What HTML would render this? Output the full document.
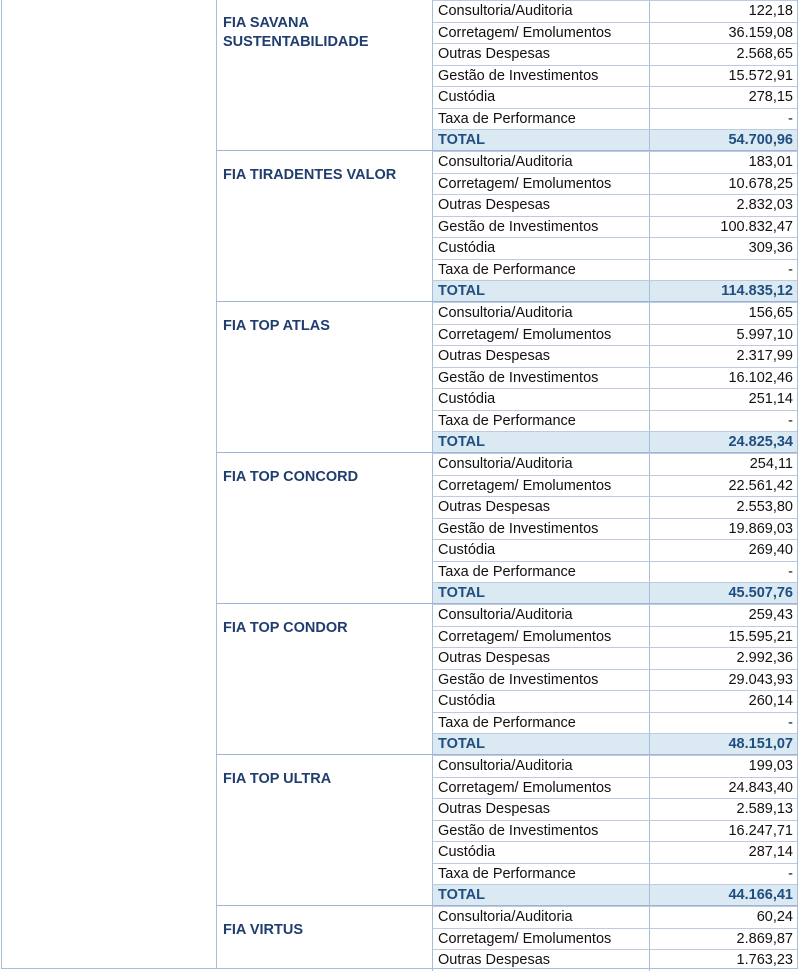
<!DOCTYPE html>
<html><head><meta charset="utf-8"><style>
body{margin:0;width:800px;height:970px;background:#fff;position:relative;overflow:hidden;font-family:"Liberation Sans",sans-serif;}
.vl{position:absolute;top:0;width:1px;background:#a9bcd8;}
.g{position:absolute;left:216px;width:581px;height:151px;border-top:1px solid #9fb3d2;}
.n{position:absolute;left:7px;top:14px;font-weight:bold;font-size:14.5px;color:#1f3d6e;line-height:19px;}
.r{position:absolute;left:216px;width:365px;height:21.57px;border-top:1px solid #bccbe0;border-left:1px solid #a9bcd8;box-sizing:border-box;font-size:14.5px;color:#111;}
.r span{position:absolute;top:2px;}
.r .l{left:5px;}
.r .v{right:4px;}
.r .s{position:absolute;left:216px;top:0;bottom:0;width:1px;background:#a9bcd8;}
.t{background:#dbe9f3;font-weight:bold;color:#1f4e80;}
</style></head><body>
<div class="vl" style="left:1px;height:969px"></div>
<div class="vl" style="left:216px;height:969px"></div>
<div class="vl" style="left:797px;height:969px"></div>
<div style="position:absolute;left:1px;top:968px;width:797px;height:1px;background:#a9bcd8"></div>

<div class="g" style="top:-1px"><div class="n">FIA SAVANA<br>SUSTENTABILIDADE</div>
<div class="r" style="top:0"><span class="l">Consultoria/Auditoria</span><span class="v">122,18</span><i class="s"></i></div>
<div class="r" style="top:21.57px"><span class="l">Corretagem/ Emolumentos</span><span class="v">36.159,08</span><i class="s"></i></div>
<div class="r" style="top:43.14px"><span class="l">Outras Despesas</span><span class="v">2.568,65</span><i class="s"></i></div>
<div class="r" style="top:64.71px"><span class="l">Gestão de Investimentos</span><span class="v">15.572,91</span><i class="s"></i></div>
<div class="r" style="top:86.28px"><span class="l">Custódia</span><span class="v">278,15</span><i class="s"></i></div>
<div class="r" style="top:107.85px"><span class="l">Taxa de Performance</span><span class="v">-</span><i class="s"></i></div>
<div class="r t" style="top:129.42px"><span class="l">TOTAL</span><span class="v">54.700,96</span><i class="s"></i></div>
</div>

<div class="g" style="top:150px"><div class="n" style="top:15px">FIA TIRADENTES VALOR</div>
<div class="r" style="top:0"><span class="l">Consultoria/Auditoria</span><span class="v">183,01</span><i class="s"></i></div>
<div class="r" style="top:21.57px"><span class="l">Corretagem/ Emolumentos</span><span class="v">10.678,25</span><i class="s"></i></div>
<div class="r" style="top:43.14px"><span class="l">Outras Despesas</span><span class="v">2.832,03</span><i class="s"></i></div>
<div class="r" style="top:64.71px"><span class="l">Gestão de Investimentos</span><span class="v">100.832,47</span><i class="s"></i></div>
<div class="r" style="top:86.28px"><span class="l">Custódia</span><span class="v">309,36</span><i class="s"></i></div>
<div class="r" style="top:107.85px"><span class="l">Taxa de Performance</span><span class="v">-</span><i class="s"></i></div>
<div class="r t" style="top:129.42px"><span class="l">TOTAL</span><span class="v">114.835,12</span><i class="s"></i></div>
</div>

<div class="g" style="top:301px"><div class="n" style="top:15px">FIA TOP ATLAS</div>
<div class="r" style="top:0"><span class="l">Consultoria/Auditoria</span><span class="v">156,65</span><i class="s"></i></div>
<div class="r" style="top:21.57px"><span class="l">Corretagem/ Emolumentos</span><span class="v">5.997,10</span><i class="s"></i></div>
<div class="r" style="top:43.14px"><span class="l">Outras Despesas</span><span class="v">2.317,99</span><i class="s"></i></div>
<div class="r" style="top:64.71px"><span class="l">Gestão de Investimentos</span><span class="v">16.102,46</span><i class="s"></i></div>
<div class="r" style="top:86.28px"><span class="l">Custódia</span><span class="v">251,14</span><i class="s"></i></div>
<div class="r" style="top:107.85px"><span class="l">Taxa de Performance</span><span class="v">-</span><i class="s"></i></div>
<div class="r t" style="top:129.42px"><span class="l">TOTAL</span><span class="v">24.825,34</span><i class="s"></i></div>
</div>

<div class="g" style="top:452px"><div class="n" style="top:15px">FIA TOP CONCORD</div>
<div class="r" style="top:0"><span class="l">Consultoria/Auditoria</span><span class="v">254,11</span><i class="s"></i></div>
<div class="r" style="top:21.57px"><span class="l">Corretagem/ Emolumentos</span><span class="v">22.561,42</span><i class="s"></i></div>
<div class="r" style="top:43.14px"><span class="l">Outras Despesas</span><span class="v">2.553,80</span><i class="s"></i></div>
<div class="r" style="top:64.71px"><span class="l">Gestão de Investimentos</span><span class="v">19.869,03</span><i class="s"></i></div>
<div class="r" style="top:86.28px"><span class="l">Custódia</span><span class="v">269,40</span><i class="s"></i></div>
<div class="r" style="top:107.85px"><span class="l">Taxa de Performance</span><span class="v">-</span><i class="s"></i></div>
<div class="r t" style="top:129.42px"><span class="l">TOTAL</span><span class="v">45.507,76</span><i class="s"></i></div>
</div>

<div class="g" style="top:603px"><div class="n" style="top:15px">FIA TOP CONDOR</div>
<div class="r" style="top:0"><span class="l">Consultoria/Auditoria</span><span class="v">259,43</span><i class="s"></i></div>
<div class="r" style="top:21.57px"><span class="l">Corretagem/ Emolumentos</span><span class="v">15.595,21</span><i class="s"></i></div>
<div class="r" style="top:43.14px"><span class="l">Outras Despesas</span><span class="v">2.992,36</span><i class="s"></i></div>
<div class="r" style="top:64.71px"><span class="l">Gestão de Investimentos</span><span class="v">29.043,93</span><i class="s"></i></div>
<div class="r" style="top:86.28px"><span class="l">Custódia</span><span class="v">260,14</span><i class="s"></i></div>
<div class="r" style="top:107.85px"><span class="l">Taxa de Performance</span><span class="v">-</span><i class="s"></i></div>
<div class="r t" style="top:129.42px"><span class="l">TOTAL</span><span class="v">48.151,07</span><i class="s"></i></div>
</div>

<div class="g" style="top:754px"><div class="n" style="top:15px">FIA TOP ULTRA</div>
<div class="r" style="top:0"><span class="l">Consultoria/Auditoria</span><span class="v">199,03</span><i class="s"></i></div>
<div class="r" style="top:21.57px"><span class="l">Corretagem/ Emolumentos</span><span class="v">24.843,40</span><i class="s"></i></div>
<div class="r" style="top:43.14px"><span class="l">Outras Despesas</span><span class="v">2.589,13</span><i class="s"></i></div>
<div class="r" style="top:64.71px"><span class="l">Gestão de Investimentos</span><span class="v">16.247,71</span><i class="s"></i></div>
<div class="r" style="top:86.28px"><span class="l">Custódia</span><span class="v">287,14</span><i class="s"></i></div>
<div class="r" style="top:107.85px"><span class="l">Taxa de Performance</span><span class="v">-</span><i class="s"></i></div>
<div class="r t" style="top:129.42px"><span class="l">TOTAL</span><span class="v">44.166,41</span><i class="s"></i></div>
</div>

<div class="g" style="top:905px;height:64px"><div class="n" style="top:15px">FIA VIRTUS</div>
<div class="r" style="top:0"><span class="l">Consultoria/Auditoria</span><span class="v">60,24</span><i class="s"></i></div>
<div class="r" style="top:21.57px"><span class="l">Corretagem/ Emolumentos</span><span class="v">2.869,87</span><i class="s"></i></div>
<div class="r" style="top:43.14px"><span class="l">Outras Despesas</span><span class="v">1.763,23</span><i class="s"></i></div>
</div>
</body></html>
